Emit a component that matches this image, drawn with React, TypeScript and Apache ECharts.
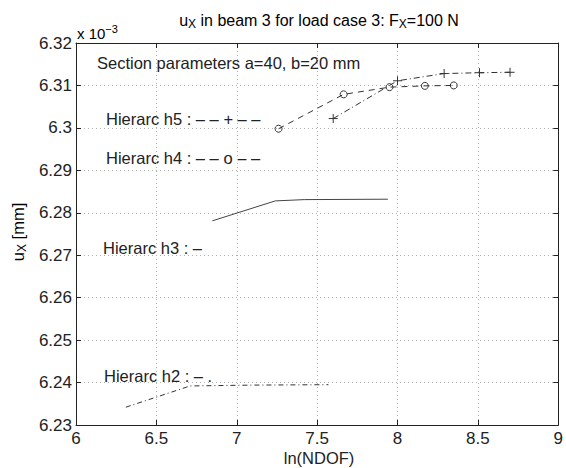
import React, { useEffect, useRef } from 'react';
import * as echarts from 'echarts';

// ln(NDOF) vs u_X (x 10^-3 mm)
const h2: number[][] = [[6.31, 6.2342], [6.71, 6.2392], [7.1, 6.2394], [7.57, 6.2395]];
const h3: number[][] = [[6.848, 6.2781], [7.24, 6.2828], [7.42, 6.2831], [7.94, 6.2832]];
const h4: number[][] = [[7.26, 6.2998], [7.665, 6.3079], [7.95, 6.3096], [8.17, 6.3099], [8.35, 6.31]];
const h5: number[][] = [[7.6, 6.3022], [8.0, 6.3111], [8.29, 6.3128], [8.51, 6.313], [8.7, 6.3131]];

const xRange = [6, 9, 0.5];
const yRange = [6.23, 6.32, 0.01];

const sectionText = 'Section parameters a=40, b=20 mm';
const legendTexts = ['Hierarc h5 : – – + – –', 'Hierarc h4 : – – o – –', 'Hierarc h3 : –', 'Hierarc h2 : – .'];
const xName = 'ln(NDOF)';

const FONT = '"Liberation Sans", Arial, Helvetica, sans-serif';
const INK = '#222';

export default function App() {
  const ref = useRef<HTMLDivElement>(null);
  useEffect(() => {
    if (!ref.current) return;
    const chart = echarts.init(ref.current, undefined, { renderer: 'svg' });
    const axisCommon = (isX: boolean) => ({
      type: 'value' as const,
      min: isX ? xRange[0] : yRange[0],
      max: isX ? xRange[1] : yRange[1],
      interval: isX ? xRange[2] : yRange[2],
    });
    const plus = 'path://M0,4L8,4M4,0L4,8';
    const baseText = { fontFamily: FONT, fontSize: 16.5, fill: INK };
    const fmt = (v: number) => String(Number(v.toFixed(2)));
    chart.setOption({
      animation: false,
      backgroundColor: '#fff',
      grid: { left: 76, right: 4, top: 43, bottom: 43, containLabel: false },
      xAxis: [
        {
          ...axisCommon(true),
          position: 'bottom',
          axisLine: { show: true, onZero: false, lineStyle: { color: INK, width: 1 } },
          axisTick: { show: true, inside: true, length: 5, lineStyle: { color: INK } },
          axisLabel: { color: INK, fontFamily: FONT, fontSize: 17, margin: 5, formatter: fmt },
          splitLine: { show: true, lineStyle: { color: '#b0b0b0', type: [1, 3], width: 1 } },
        },
        {
          ...axisCommon(true),
          position: 'top',
          axisLine: { show: true, onZero: false, lineStyle: { color: INK, width: 1 } },
          axisTick: { show: true, inside: true, length: 5, lineStyle: { color: INK } },
          axisLabel: { show: false },
          splitLine: { show: false },
        },
      ],
      yAxis: [
        {
          ...axisCommon(false),
          position: 'left',
          axisLine: { show: true, onZero: false, lineStyle: { color: INK, width: 1 } },
          axisTick: { show: true, inside: true, length: 5, lineStyle: { color: INK } },
          axisLabel: { color: INK, fontFamily: FONT, fontSize: 17, margin: 4, formatter: fmt },
          splitLine: { show: true, lineStyle: { color: '#b0b0b0', type: [1, 3], width: 1 } },
        },
        {
          ...axisCommon(false),
          position: 'right',
          axisLine: { show: true, onZero: false, lineStyle: { color: INK, width: 1 } },
          axisTick: { show: true, inside: true, length: 5, lineStyle: { color: INK } },
          axisLabel: { show: false },
          splitLine: { show: false },
        },
      ],
      series: [
        {
          type: 'line', name: 'h2', data: h2, xAxisIndex: 0, yAxisIndex: 0,
          symbol: 'none', lineStyle: { color: '#333', width: 1, type: [5, 3, 1, 3] },
        },
        {
          type: 'line', name: 'h3', data: h3, xAxisIndex: 0, yAxisIndex: 0,
          symbol: 'none', lineStyle: { color: '#444', width: 1, type: 'solid' },
        },
        {
          type: 'line', name: 'h4', data: h4, xAxisIndex: 0, yAxisIndex: 0,
          symbol: 'circle', symbolSize: 7, showAllSymbol: true,
          lineStyle: { color: '#333', width: 1, type: [6, 5] },
          itemStyle: { color: 'rgba(0,0,0,0)', borderColor: '#333', borderWidth: 1 },
        },
        {
          type: 'line', name: 'h5', data: h5, xAxisIndex: 0, yAxisIndex: 0,
          symbol: plus, symbolSize: 9, showAllSymbol: true,
          lineStyle: { color: '#333', width: 1, type: [6, 3, 1, 3] },
          itemStyle: { color: 'rgba(0,0,0,0)', borderColor: '#333', borderWidth: 1 },
        },
      ],
      graphic: [
        {
          type: 'text', x: 319, y: 20,
          style: {
            text: '{t|u}{s|X}{t| in beam 3 for load case 3: F}{s|X}{t|=100 N}',
            align: 'center', verticalAlign: 'middle',
            rich: {
              t: { fontFamily: FONT, fontSize: 16, color: INK, lineHeight: 20 },
              s: { fontFamily: FONT, fontSize: 12, color: INK, lineHeight: 12, verticalAlign: 'bottom' },
            },
          },
        },
        {
          type: 'text', x: 77, y: 33,
          style: {
            text: '{t|x 10}{s|−3}',
            align: 'left', verticalAlign: 'middle',
            rich: {
              t: { fontFamily: FONT, fontSize: 15, color: INK, lineHeight: 20 },
              s: { fontFamily: FONT, fontSize: 11, color: INK, lineHeight: 11, verticalAlign: 'top' },
            },
          },
        },
        { type: 'text', x: 97, y: 63, style: { ...baseText, text: sectionText, align: 'left', verticalAlign: 'middle' } },
        { type: 'text', x: 106, y: 119, style: { ...baseText, text: legendTexts[0], align: 'left', verticalAlign: 'middle' } },
        { type: 'text', x: 106, y: 158, style: { ...baseText, text: legendTexts[1], align: 'left', verticalAlign: 'middle' } },
        { type: 'text', x: 103, y: 248, style: { ...baseText, text: legendTexts[2], align: 'left', verticalAlign: 'middle' } },
        { type: 'text', x: 104, y: 376, style: { ...baseText, text: legendTexts[3], align: 'left', verticalAlign: 'middle' } },
        { type: 'text', x: 319, y: 458, style: { ...baseText, text: xName, align: 'center', verticalAlign: 'middle' } },
        {
          type: 'text', x: 18, y: 232, rotation: Math.PI / 2,
          style: {
            text: '{t|u}{s|X}{t| [mm]}',
            align: 'center', verticalAlign: 'middle',
            rich: {
              t: { fontFamily: FONT, fontSize: 16.5, color: INK, lineHeight: 20 },
              s: { fontFamily: FONT, fontSize: 12, color: INK, lineHeight: 12, verticalAlign: 'bottom' },
            },
          },
        },
      ],
    });
    return () => chart.dispose();
  }, []);
  return <div ref={ref} style={{ position: 'absolute', left: 0, top: 0, width: 566, height: 468 }} />;
}
